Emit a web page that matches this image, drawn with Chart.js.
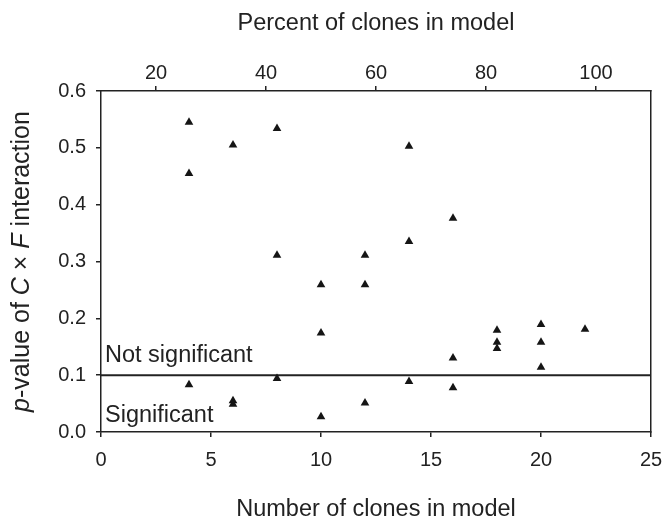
<!DOCTYPE html>
<html>
<head>
<meta charset="utf-8">
<script src="https://cdn.jsdelivr.net/npm/chart.js@4/dist/chart.umd.min.js"></script>
<style>
  html, body { margin: 0; padding: 0; background: #fff; }
  canvas { display: block; }
</style>
</head>
<body>
<canvas id="pChart" width="664" height="519"></canvas>
<script>
// Number of clones in each model and the p-value of the C x F interaction
const cloneCounts = [4, 4, 4, 6, 6, 6, 8, 8, 8, 10, 10, 10, 12, 12, 12, 14, 14, 14, 16, 16, 16, 18, 18, 18, 20, 20, 20, 22];
const pValues = [0.545, 0.455, 0.083, 0.505, 0.055, 0.049, 0.534, 0.311, 0.094, 0.259, 0.174, 0.027, 0.311, 0.259, 0.051, 0.503, 0.335, 0.089, 0.376, 0.130, 0.078, 0.179, 0.158, 0.147, 0.189, 0.158, 0.114, 0.181];

// Significance cut-off line
const cutoff = 0.1;
const cutoffRange = [0, 25];

// Axis ticks
const cloneTicks = [0, 5, 10, 15, 20, 25];
const percentTicks = [20, 40, 60, 80, 100];
const pTicks = [0, 0.1, 0.2, 0.3, 0.4, 0.5, 0.6];

const ink = "#222";
const fontFamily = "'Liberation Sans', Arial, Helvetica, sans-serif";

const points = cloneCounts.map((c, i) => ({ x: c, y: pValues[i] }));
const cutoffLine = cutoffRange.map((x) => ({ x: x, y: cutoff }));

function fixedTicks(values) {
  return function (axis) {
    axis.ticks = values.map((v) => ({ value: v }));
  };
}

// fixed axis boxes so the plot area matches the figure
function fitBox(size) {
  return function (s) {
    if (s.isHorizontal()) s.height = size;
    else s.width = size;
    s.paddingLeft = 0;
    s.paddingRight = 0;
    s.paddingTop = 0;
    s.paddingBottom = 0;
  };
}

// Titles and the two region labels are drawn by hand (y title has italic parts)
const labelsPlugin = {
  id: "labels",
  afterDraw(chart) {
    const ctx = chart.ctx;
    const area = chart.chartArea;
    const midX = (area.left + area.right) / 2;
    const midY = (area.top + area.bottom) / 2;
    ctx.save();
    ctx.fillStyle = ink;
    ctx.textBaseline = "alphabetic";

    ctx.font = "23.5px " + fontFamily;
    ctx.textAlign = "center";
    ctx.fillText("Percent of clones in model", midX, 30);
    ctx.fillText("Number of clones in model", midX, 516);

    // y axis title with italic p, C and F
    const parts = [
      ["p", true], ["-value of ", false], ["C", true], [" \u00d7 ", false],
      ["F", true], [" interaction", false],
    ];
    const fontFor = (it) => (it ? "italic " : "") + "25px " + fontFamily;
    let total = 0;
    parts.forEach(([t, it]) => {
      ctx.font = fontFor(it);
      total += ctx.measureText(t).width;
    });
    ctx.translate(29, midY);
    ctx.rotate(-Math.PI / 2);
    ctx.textAlign = "left";
    let x = -total / 2;
    parts.forEach(([t, it]) => {
      ctx.font = fontFor(it);
      ctx.fillText(t, x, 0);
      x += ctx.measureText(t).width;
    });
    ctx.restore();

    ctx.save();
    ctx.fillStyle = ink;
    ctx.font = "23.5px " + fontFamily;
    ctx.textAlign = "left";
    ctx.textBaseline = "alphabetic";
    ctx.fillText("Not significant", area.left + 4, 362);
    ctx.fillText("Significant", area.left + 4, 422);
    ctx.restore();
  },
};

const axisLine = { display: true, color: ink, width: 1.5 };
const outerTicks = { display: true, drawOnChartArea: false, drawTicks: true, tickLength: 5, color: ink, lineWidth: 1.5 };
const tickFont = { family: fontFamily, size: 20 };

const ctx = document.getElementById("pChart").getContext("2d");
const chart = new Chart(ctx, {
  type: "scatter",
  data: {
    datasets: [
      {
        label: "p-value",
        data: points,
        pointStyle: "triangle",
        pointRadius: 5,
        pointHoverRadius: 5,
        backgroundColor: "#151515",
        borderWidth: 0,
        order: 1,
      },
      {
        type: "line",
        label: "cut-off",
        data: cutoffLine,
        borderColor: ink,
        borderWidth: 2,
        pointRadius: 0,
        fill: false,
        order: 2,
      },
    ],
  },
  options: {
    responsive: false,
    animation: false,
    devicePixelRatio: 1,
    layout: { padding: 0 },
    plugins: {
      legend: { display: false },
      tooltip: { enabled: false },
    },
    scales: {
      x: {
        type: "linear",
        position: "bottom",
        min: 0,
        max: 25,
        afterBuildTicks: fixedTicks(cloneTicks),
        afterFit: fitBox(87),
        border: axisLine,
        grid: outerTicks,
        ticks: { color: ink, font: tickFont, padding: 11, maxRotation: 0 },
      },
      x2: {
        type: "linear",
        position: "top",
        min: 10,
        max: 110,
        afterBuildTicks: fixedTicks(percentTicks),
        afterFit: fitBox(91),
        border: axisLine,
        grid: outerTicks,
        ticks: { color: ink, font: tickFont, padding: 1, maxRotation: 0 },
      },
      y: {
        type: "linear",
        position: "left",
        min: 0,
        max: 0.6,
        afterBuildTicks: fixedTicks(pTicks),
        afterFit: fitBox(101),
        border: axisLine,
        grid: outerTicks,
        ticks: { color: ink, font: tickFont, padding: 10, callback: (v) => v.toFixed(1) },
      },
      y2: {
        type: "linear",
        position: "right",
        min: 0,
        max: 0.6,
        afterFit: fitBox(13),
        border: axisLine,
        grid: { display: false, drawTicks: false },
        ticks: { display: false },
      },
    },
  },
  plugins: [labelsPlugin],
});
</script>
</body>
</html>
